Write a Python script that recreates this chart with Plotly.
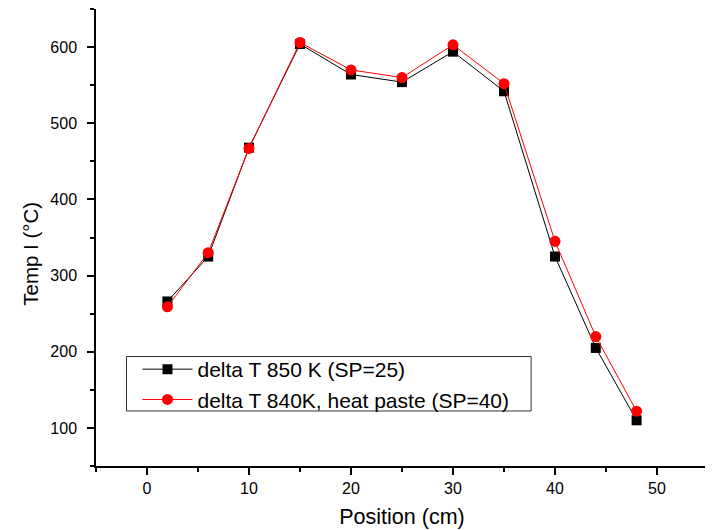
import plotly.graph_objects as go

position = [2, 6, 10, 15, 20, 25, 30, 35, 40, 44, 48]
temp_850 = [266, 325, 468, 604, 564, 554, 594, 542, 325, 205, 110]
temp_840_paste = [259, 330, 467, 606, 570, 560, 603, 552, 345, 220, 122]
name_850 = "delta T 850 K (SP=25)"
name_840 = "delta T 840K, heat paste (SP=40)"
x_title = "Position (cm)"
y_title = "Temp I (°C)"

fig = go.Figure()
fig.add_trace(go.Scatter(x=position, y=temp_850, mode="lines+markers", name=name_850,
                         line=dict(color="black", width=1),
                         marker=dict(symbol="square", size=10, color="black")))
fig.add_trace(go.Scatter(x=position, y=temp_840_paste, mode="lines+markers", name=name_840,
                         line=dict(color="red", width=1),
                         marker=dict(symbol="circle", size=11, color="red")))

font = "Liberation Sans, Arial, sans-serif"
fig.update_layout(
    width=705, height=522,
    margin=dict(l=88, r=5, t=1, b=64),
    paper_bgcolor="white", plot_bgcolor="white",
    font=dict(family=font, size=16, color="black"),
    showlegend=True,
    legend=dict(x=0.0678, y=0.256, xanchor="left", yanchor="top",
                borderwidth=0, bgcolor="rgba(0,0,0,0)",
                font=dict(size=21), tracegroupgap=0, itemwidth=50),
    shapes=[dict(type="rect", xref="paper", yref="paper",
                 x0=0.0498, x1=0.711, y0=0.1204, y1=0.2396,
                 line=dict(color="#333", width=1), fillcolor="white", layer="below")],
    annotations=[dict(text=y_title, textangle=-90, xref="paper", yref="paper",
                      x=-0.1065, y=0.464, xanchor="center", yanchor="middle",
                      showarrow=False, font=dict(size=20.5))],
    xaxis=dict(range=[-5, 55], showgrid=False, zeroline=False, automargin=False,
               showline=True, linecolor="black", linewidth=1.5,
               ticks="outside", ticklen=7, tickwidth=1.5, tickcolor="black",
               dtick=10, tick0=0,
               minor=dict(ticks="outside", ticklen=4, tickwidth=1.5, tickcolor="black", dtick=5, tick0=0),
               title=dict(text=x_title, font=dict(size=21.5), standoff=13)),
    yaxis=dict(range=[50, 650], showgrid=False, zeroline=False, automargin=False,
               showline=True, linecolor="black", linewidth=1.5,
               ticks="outside", ticklen=7, tickwidth=1.5, tickcolor="black",
               dtick=100, tick0=0, ticklabelstandoff=7,
               minor=dict(ticks="outside", ticklen=4, tickwidth=1.5, tickcolor="black", dtick=50, tick0=0)),
)

fig.write_html("out.html")
